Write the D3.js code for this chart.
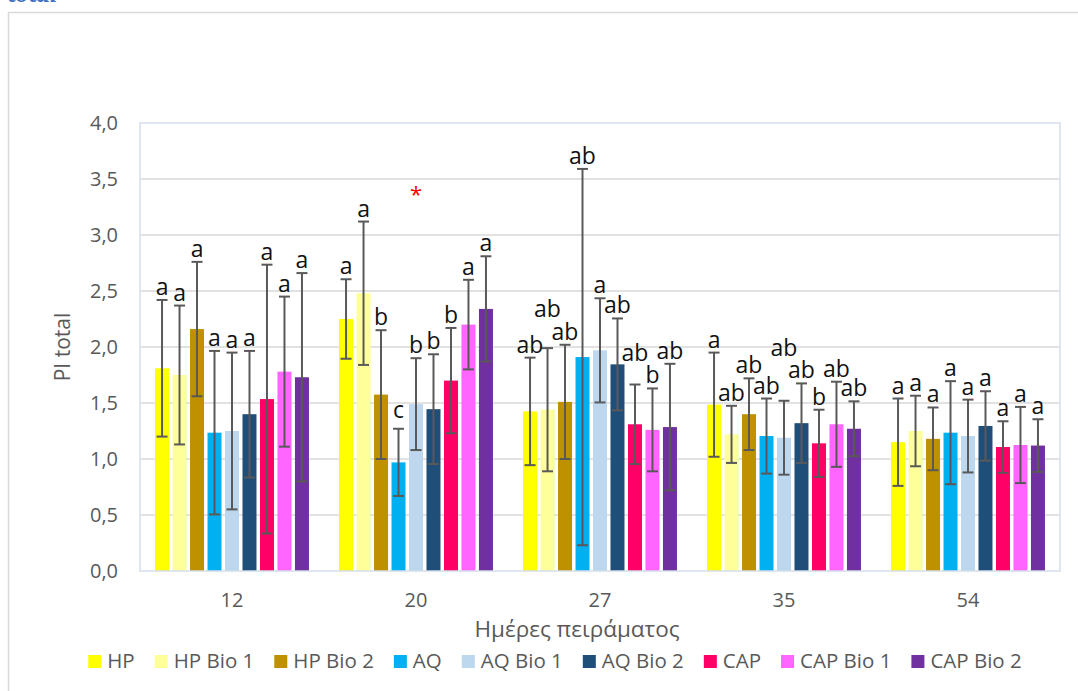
<!DOCTYPE html>
<html>
<head>
<meta charset="utf-8">
<script src="https://cdn.jsdelivr.net/npm/d3@7/dist/d3.min.js"></script>
<style>
  html, body { margin: 0; padding: 0; background: #fff; }
  svg { display: block; font-family: "Open Sans", "Noto Sans", sans-serif; }
</style>
</head>
<body>
<svg id="chart" width="1078" height="691"></svg>
<script>
// Experiment days (x categories)
const days = ["12", "20", "27", "35", "54"];

// Treatments (series)
const series = ["HP", "HP Bio 1", "HP Bio 2", "AQ", "AQ Bio 1", "AQ Bio 2", "CAP", "CAP Bio 1", "CAP Bio 2"];
const colors = ["#FFFF00", "#FFFF99", "#BF9000", "#00B0F0", "#BDD7EE", "#1F4E79", "#FF0066", "#FF66FF", "#7030A0"];

// Mean PI total per treatment, one value per day
const meanHP     = [1.81, 2.25, 1.425, 1.485, 1.15];
const meanHPBio1 = [1.75, 2.48, 1.44, 1.22, 1.25];
const meanHPBio2 = [2.16, 1.575, 1.51, 1.40, 1.18];
const meanAQ     = [1.235, 0.97, 1.91, 1.205, 1.235];
const meanAQBio1 = [1.25, 1.49, 1.97, 1.19, 1.205];
const meanAQBio2 = [1.40, 1.445, 1.845, 1.32, 1.295];
const meanCAP    = [1.535, 1.70, 1.31, 1.14, 1.107];
const meanCAPBio1 = [1.78, 2.20, 1.26, 1.31, 1.125];
const meanCAPBio2 = [1.73, 2.34, 1.285, 1.27, 1.12];

// Standard deviations (symmetric error bars)
const sdHP     = [0.61, 0.355, 0.48, 0.465, 0.39];
const sdHPBio1 = [0.62, 0.64, 0.55, 0.255, 0.315];
const sdHPBio2 = [0.60, 0.575, 0.51, 0.32, 0.28];
const sdAQ     = [0.73, 0.30, 1.68, 0.335, 0.46];
const sdAQBio1 = [0.70, 0.41, 0.465, 0.33, 0.325];
const sdAQBio2 = [0.565, 0.49, 0.41, 0.355, 0.31];
const sdCAP    = [1.20, 0.47, 0.355, 0.30, 0.23];
const sdCAPBio1 = [0.67, 0.40, 0.37, 0.38, 0.34];
const sdCAPBio2 = [0.93, 0.47, 0.565, 0.245, 0.235];

// Significance letters
const lettersHP     = ["a", "a", "ab", "a", "a"];
const lettersHPBio1 = ["a", "a", "ab", "ab", "a"];
const lettersHPBio2 = ["a", "b", "ab", "ab", "a"];
const lettersAQ     = ["a", "c", "ab", "ab", "a"];
const lettersAQBio1 = ["a", "b", "a", "ab", "a"];
const lettersAQBio2 = ["a", "b", "ab", "ab", "a"];
const lettersCAP    = ["a", "b", "ab", "b", "a"];
const lettersCAPBio1 = ["a", "a", "b", "ab", "a"];
const lettersCAPBio2 = ["a", "a", "ab", "ab", "a"];

// Y axis ticks
const yTicks = [0, 0.5, 1.0, 1.5, 2.0, 2.5, 3.0, 3.5, 4.0];

// Day marked with an asterisk and its height
const starDay = "20";
const starValue = 3.40;

const means = [meanHP, meanHPBio1, meanHPBio2, meanAQ, meanAQBio1, meanAQBio2, meanCAP, meanCAPBio1, meanCAPBio2];
const sds = [sdHP, sdHPBio1, sdHPBio2, sdAQ, sdAQBio1, sdAQBio2, sdCAP, sdCAPBio1, sdCAPBio2];
const letters = [lettersHP, lettersHPBio1, lettersHPBio2, lettersAQ, lettersAQBio1, lettersAQBio2, lettersCAP, lettersCAPBio1, lettersCAPBio2];

// Extra upward shift (px) for labels moved clear of their neighbours
const labelLift = { "20|AQ": 6, "27|HP Bio 1": 26, "27|CAP": 19, "35|AQ Bio 1": 40 };

const rows = [];
series.forEach((s, si) => {
  days.forEach((d, di) => {
    rows.push({ day: d, series: s, color: colors[si], mean: means[si][di], sd: sds[si][di], letter: letters[si][di] });
  });
});

const svg = d3.select("#chart");
const plot = { left: 140, right: 1060, top: 123, bottom: 571 };

// Heading line running off the top edge
svg.append("text")
  .attr("x", 8).attr("y", 2)
  .attr("font-family", "Liberation Serif, serif")
  .attr("font-style", "italic").attr("font-weight", "bold")
  .attr("font-size", 27).attr("fill", "#4472C4")
  .text("total");

// Chart frame
svg.append("rect")
  .attr("x", 8.5).attr("y", 12.5).attr("width", 1100).attr("height", 700)
  .attr("fill", "#fff").attr("stroke", "#D9D9D9").attr("stroke-width", 1.5);

const x0 = d3.scaleBand().domain(days).range([plot.left, plot.right]).padding(0);
const x1 = d3.scaleBand().domain(series).range([0, x0.bandwidth()]).paddingInner(0.2).paddingOuter(0.86);
const y = d3.scaleLinear().domain([0, 4]).range([plot.bottom, plot.top]);

const locale = d3.formatLocale({ decimal: ",", thousands: ".", grouping: [3], currency: ["", "€"] });
const fmt = locale.format(".1f");

// Gridlines
svg.append("g")
  .selectAll("line").data(yTicks.filter(t => t > 0 && t < 4)).join("line")
  .attr("x1", plot.left).attr("x2", plot.right)
  .attr("y1", d => y(d)).attr("y2", d => y(d))
  .attr("stroke", "#D9D9D9").attr("stroke-width", 1.5);

// Y axis labels
const yAxis = d3.axisLeft(y).tickValues(yTicks).tickFormat(fmt).tickSize(0).tickPadding(22);
const yg = svg.append("g").attr("transform", `translate(${plot.left},0)`).call(yAxis);
yg.select(".domain").remove();
yg.selectAll("text").attr("font-family", "Open Sans").attr("font-size", 20).attr("fill", "#595959");

// Bars
const groups = svg.append("g").selectAll("g").data(days).join("g")
  .attr("transform", d => `translate(${x0(d)},0)`);

groups.selectAll("rect").data(d => rows.filter(r => r.day === d)).join("rect")
  .attr("x", d => x1(d.series))
  .attr("width", x1.bandwidth())
  .attr("y", d => y(d.mean))
  .attr("height", d => y(0) - y(d.mean))
  .attr("fill", d => d.color);

// Error bars
const capW = 11;
const eb = groups.selectAll("g.err").data(d => rows.filter(r => r.day === d)).join("g")
  .attr("class", "err")
  .attr("stroke", "#595959").attr("stroke-width", 2);
eb.append("line")
  .attr("x1", d => x1(d.series) + x1.bandwidth() / 2).attr("x2", d => x1(d.series) + x1.bandwidth() / 2)
  .attr("y1", d => y(d.mean + d.sd)).attr("y2", d => y(Math.max(0, d.mean - d.sd)));
eb.append("line")
  .attr("x1", d => x1(d.series) + x1.bandwidth() / 2 - capW / 2).attr("x2", d => x1(d.series) + x1.bandwidth() / 2 + capW / 2)
  .attr("y1", d => y(d.mean + d.sd)).attr("y2", d => y(d.mean + d.sd));
eb.append("line")
  .attr("x1", d => x1(d.series) + x1.bandwidth() / 2 - capW / 2).attr("x2", d => x1(d.series) + x1.bandwidth() / 2 + capW / 2)
  .attr("y1", d => y(Math.max(0, d.mean - d.sd))).attr("y2", d => y(Math.max(0, d.mean - d.sd)));

// Significance letters
groups.selectAll("text.lbl").data(d => rows.filter(r => r.day === d)).join("text")
  .attr("class", "lbl")
  .attr("x", d => x1(d.series) + x1.bandwidth() / 2)
  .attr("y", d => y(d.mean + d.sd) - 5 - (labelLift[d.day + "|" + d.series] || 0))
  .attr("text-anchor", "middle")
  .attr("font-family", "Open Sans").attr("font-size", 23).attr("fill", "#111")
  .text(d => d.letter);

// Asterisk
svg.append("text")
  .attr("x", x0(starDay) + x0.bandwidth() / 2)
  .attr("y", y(starValue) + 12)
  .attr("text-anchor", "middle")
  .attr("font-family", "Open Sans").attr("font-size", 22).attr("fill", "#FF0000")
  .text("*");

// Plot area border
svg.append("rect")
  .attr("x", plot.left).attr("y", plot.top)
  .attr("width", plot.right - plot.left).attr("height", plot.bottom - plot.top)
  .attr("fill", "none").attr("stroke", "#D5DEEA").attr("stroke-width", 1.5);

// X axis labels
const xAxis = d3.axisBottom(x0).tickSize(0).tickPadding(22);
const xg = svg.append("g").attr("transform", `translate(0,${plot.bottom})`).call(xAxis);
xg.select(".domain").remove();
xg.selectAll("text").attr("font-family", "Open Sans").attr("font-size", 20).attr("fill", "#595959");

// Axis titles
svg.append("text")
  .attr("transform", `translate(70,347) rotate(-90)`)
  .attr("text-anchor", "middle")
  .attr("font-size", 21).attr("fill", "#595959")
  .text("PI total");

svg.append("text")
  .attr("x", 577).attr("y", 637)
  .attr("text-anchor", "middle")
  .attr("font-size", 22.5).attr("fill", "#595959")
  .text("Ημέρες πειράματος");

// Legend
const legend = svg.append("g");
let lx = 0;
series.forEach((s, i) => {
  const item = legend.append("g").attr("transform", `translate(${lx},0)`);
  item.append("rect").attr("x", 0).attr("y", 655).attr("width", 13).attr("height", 13).attr("fill", colors[i]);
  const t = item.append("text").attr("x", 19).attr("y", 668)
    .attr("font-size", 20.5).attr("fill", "#595959").text(s);
  lx += 19 + t.node().getComputedTextLength() + 20;
});
const legendW = lx - 20;
legend.attr("transform", `translate(${555 - legendW / 2},0)`);
</script>
</body>
</html>
